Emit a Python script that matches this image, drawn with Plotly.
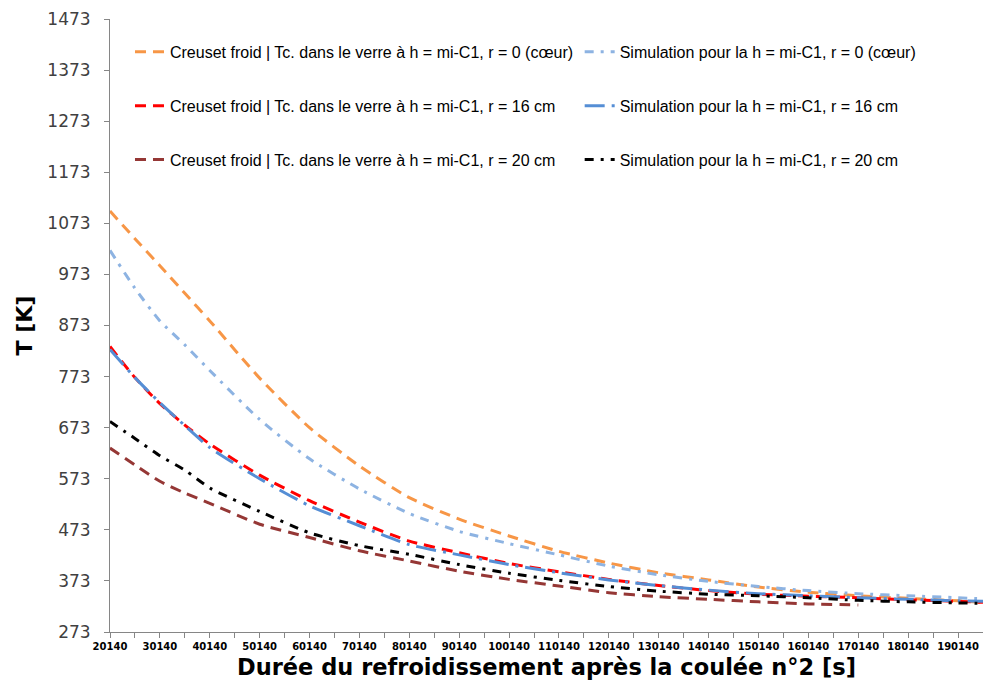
import plotly.graph_objects as go

# ---- data ----
times = [20140, 25140, 30140, 35140, 40140, 50140, 60140, 70140, 80140, 90140,
         100140, 110140, 120140, 130140, 140140, 150140, 160140, 170140,
         180140, 190140, 195140]

exp_r0 = [1097, 1043, 990, 936, 882, 770, 673, 598, 536, 494,
          461, 431, 408, 389, 375, 361, 351, 344, 339, 334, 331]
sim_r0 = [1020, 946, 882, 835, 785, 689, 612, 553, 505, 470,
          446, 424, 402, 385, 372, 362, 354, 348, 344, 340, 338]
exp_r16 = [832, 771, 720, 678, 641, 580, 530, 488, 451, 428,
           407, 391, 376, 364, 354, 347, 343, 340, 336, 333, 331]
sim_r16 = [826, 771, 722, 677, 634, 573, 520, 481, 444, 424,
           405, 389, 375, 364, 355, 348, 344, 340, 337, 334, 333]
exp_r20 = [633, 600, 568, 545, 525, 484, 458, 432, 412, 392,
           376, 363, 350, 342, 337, 332, 328, 326]
sim_r20 = [685, 652, 618, 590, 555, 509, 467, 442, 425, 405,
           388, 374, 362, 353, 347, 344, 340, 335, 332, 330, 329]

names = {
    "exp_r0": "Creuset froid | Tc. dans le verre à h = mi-C1, r = 0 (cœur)",
    "sim_r0": "Simulation pour la h = mi-C1, r = 0 (cœur)",
    "exp_r16": "Creuset froid | Tc. dans le verre à h = mi-C1, r = 16 cm",
    "sim_r16": "Simulation pour la h = mi-C1, r = 16 cm",
    "exp_r20": "Creuset froid | Tc. dans le verre à h = mi-C1, r = 20 cm",
    "sim_r20": "Simulation pour la h = mi-C1, r = 20 cm",
}

y_ticks = [273, 373, 473, 573, 673, 773, 873, 973, 1073, 1173, 1273, 1373, 1473]
x_ticks = list(range(20140, 190141, 10000))

series = [
    ("exp_r0", exp_r0, "#F79646", "11px,7px", "legend"),
    ("sim_r0", sim_r0, "#8DB3E2", "9px,7px,3px,7px", "legend2"),
    ("exp_r16", exp_r16, "#FF0000", "11px,7px", "legend"),
    ("sim_r16", sim_r16, "#558ED5", "20px,7px,3px,7px", "legend2"),
    ("exp_r20", exp_r20, "#953735", "11px,7px", "legend"),
    ("sim_r20", sim_r20, "#000000", "9px,7px,3px,7px", "legend2"),
]

fig = go.Figure()
for key, vals, color, dash, leg in series:
    fig.add_trace(go.Scatter(
        x=times[:len(vals)], y=vals, mode="lines", name=names[key],
        line=dict(color=color, width=3, dash=dash, shape="spline", smoothing=0.6),
        legend=leg, legendgroup=key, hoverinfo="x+y",
    ))

legend_common = dict(
    font=dict(family="Liberation Sans, Arial", size=16, color="#000000"),
    bgcolor="rgba(0,0,0,0)", tracegroupgap=30, yanchor="top", xanchor="left",
    orientation="v",
)

fig.update_layout(
    width=983, height=690,
    margin=dict(l=110, r=0, t=19, b=58),
    paper_bgcolor="white", plot_bgcolor="white",
    legend=dict(x=0.0229, y=0.974, **legend_common),
    legend2=dict(x=0.538, y=0.974, **legend_common),
    xaxis=dict(
        range=[20140, 195140], tickvals=x_ticks, ticktext=[str(v) for v in x_ticks],
        ticks="outside", ticklen=5, tickcolor="#868686",
        minor=dict(dtick=5000, tick0=20140, ticks="outside", ticklen=5, tickcolor="#868686"),
        showline=True, linecolor="#868686", linewidth=1, showgrid=False, zeroline=False,
        tickfont=dict(family="DejaVu Sans", size=10, color="#000000", weight="bold"),
        title=dict(text="Durée du refroidissement après la coulée n°2 [s]",
                   font=dict(family="DejaVu Sans", size=22.5, color="#000000", weight="bold"),
                   standoff=8),
    ),
    yaxis=dict(
        range=[273, 1473], tickvals=y_ticks, ticktext=[str(v) for v in y_ticks],
        ticks="outside", ticklen=5, tickcolor="#868686", ticklabelstandoff=10,
        showline=True, linecolor="#868686", linewidth=1, showgrid=False, zeroline=False,
        tickfont=dict(family="DejaVu Sans", size=17, color="#404040"),
        title=dict(text="T [K]",
                   font=dict(family="DejaVu Sans", size=22, color="#000000", weight="bold"),
                   standoff=8),
    ),
    showlegend=True,
)

fig.write_html("out.html")
